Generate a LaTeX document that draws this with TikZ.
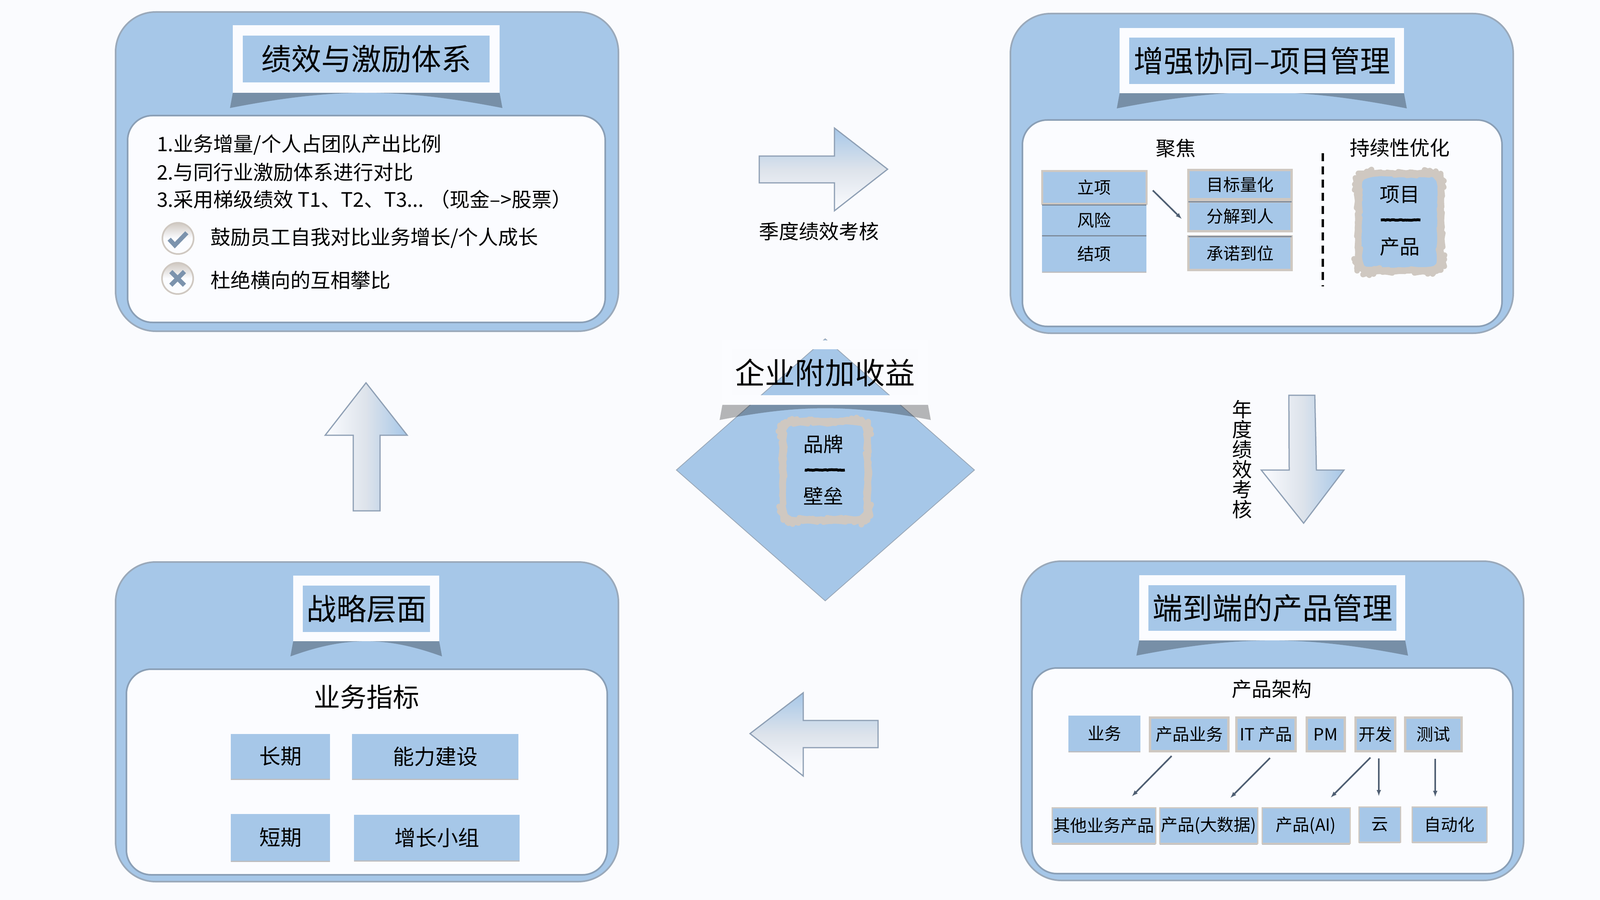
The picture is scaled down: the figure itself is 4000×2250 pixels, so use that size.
\documentclass[tikz,border=0pt]{standalone}
\usepackage{fontspec}
\setmainfont{Noto Sans CJK SC}
\usetikzlibrary{shadows,decorations.pathmorphing}

\definecolor{pagebg}{HTML}{FAFBFE}
\definecolor{cardwhite}{HTML}{FBFCFF}
\definecolor{panelblue}{HTML}{A6C7E8}
\definecolor{panelrim}{HTML}{9AA9BA}
\definecolor{innerrim}{HTML}{8A9FB6}
\definecolor{taupe}{HTML}{CFC8C1}
\definecolor{slate}{HTML}{4F5F73}
\definecolor{iconblue}{HTML}{7C93AD}
\definecolor{arrowmid}{HTML}{DDE3EB}
\definecolor{arrowedge}{HTML}{8FA0B5}
\definecolor{seamgray}{HTML}{7D8A9A}

\tikzset{
	panelbox/.style={draw=panelrim,line width=4,fill=panelblue,rounded corners=100,inner sep=0,outer sep=0},
	innerbox/.style={draw=innerrim,line width=4,fill=cardwhite,rounded corners=62,inner sep=0,outer sep=0},
	titleframe/.style={fill=cardwhite,inner sep=0,outer sep=0},
	titlebox/.style={fill=panelblue,inner sep=0,outer sep=0,font=\fontsize{75}{80}\selectfont},
	plainbox/.style={fill=panelblue,inner sep=0,outer sep=0,general shadow={fill=gray,opacity=.5,shadow xshift=0pt,shadow yshift=-3pt,scale=1.03}},
	framedbox/.style={plainbox,draw=taupe,line width=6},
	brushbox/.style={draw=taupe,line width=14,line join=round,fill=panelblue,rounded corners=28,inner sep=0,outer sep=0,decorate,decoration={random steps,segment length=10,amplitude=1.5}},
	bodytext/.style={inner sep=0,outer sep=0,font=\fontsize{50}{50}\selectfont},
	smalltext/.style={font=\fontsize{42}{50}\selectfont},
	mediumtext/.style={font=\fontsize{53}{60}\selectfont},
	brushdash/.style={draw=black,line width=7,decorate,decoration={random steps,segment length=4,amplitude=.8}},
	seamline/.style={draw=seamgray,line width=3},
	link/.style={-latex,draw=slate,line width=4},
	shadetail/.style={fill=black,opacity=.28},
	bigarrow/.style={draw=arrowedge,line width=3},
	iconring/.style={circle,draw=taupe,line width=4,top color=taupe,bottom color=cardwhite,middle color=cardwhite,minimum size=78,inner sep=0,outer sep=0},
	iconstroke/.style={draw=iconblue,line width=11}
}

\newcommand{\tailunder}[2]{\fill[shadetail] ([shift={(-7,38)}]#1.south west) to[bend left=#2] ([shift={(7,38)}]#1.south east) -- (#1.south east) -- (#1.south west) -- cycle;}

\begin{document}
\begin{tikzpicture}[x=1pt,y=-1pt]
	
	\useasboundingbox (0,0) rectangle (4000,2250);
	\fill[pagebg] (0,0) rectangle (4000,2250);
	
	\node[panelbox,minimum width=1257,minimum height=798] (perfpanel) at (917.5,429) {};
	\node[titleframe,minimum width=667,minimum height=169] (perfframe) at (915.5,147.5) {};
	\tailunder{perfframe}{11}
	\node[titleframe,minimum width=667,minimum height=169] at (915.5,147.5) {};
	\node[titlebox,minimum width=617,minimum height=117] (perftitle) at (915.5,147.5) {绩效与激励体系};
	\node[innerbox,minimum width=1194,minimum height=517] (perfinner) at (916,547.5) {};
	\node[bodytext,anchor=west] (perfa) at (392,362) {1.业务增量/个人占团队产出比例};
	\node[bodytext,anchor=west] (perfb) at (392,431) {2.与同行业激励体系进行对比};
	\node[bodytext,anchor=west] (perfc) at (392,498) {3.采用梯级绩效 T1、T2、T3... （现金–>股票）};
	\node[iconring] (yesicon) at (445,596) {};
	\node[iconring] (noicon) at (444,696) {};
	\draw[iconstroke] ([shift={(-22,2)}]yesicon.center) -- ([shift={(-8,17)}]yesicon.center) -- ([shift={(22,-14)}]yesicon.center);
	\draw[iconstroke] ([shift={(-17,-17)}]noicon.center) -- ([shift={(17,17)}]noicon.center);
	\draw[iconstroke] ([shift={(17,-17)}]noicon.center) -- ([shift={(-17,17)}]noicon.center);
	\node[bodytext,anchor=west] (yestext) at (526,595) {鼓励员工自我对比业务增长/个人成长};
	\node[bodytext,anchor=west] (notext) at (526,700) {杜绝横向的互相攀比};
	
	\node[panelbox,minimum width=1257,minimum height=799] (syncpanel) at (3154.5,433.5) {};
	\node[titleframe,minimum width=711,minimum height=163] (syncframe) at (3154.5,151.5) {};
	\tailunder{syncframe}{11}
	\node[titleframe,minimum width=711,minimum height=163] at (3154.5,151.5) {};
	\node[titlebox,minimum width=664,minimum height=116] (synctitle) at (3155,152) {增强协同–项目管理};
	\node[innerbox,minimum width=1199,minimum height=516] (syncinner) at (3155.5,558) {};
	\node[bodytext] (focus) at (2939,371) {聚焦};
	\node[bodytext] (improve) at (3499,370) {持续性优化};
	\node[plainbox,smalltext,draw=taupe,line width=5,minimum width=261,minimum height=82] (initiate) at (2735.5,468) {立项};
	\node[plainbox,smalltext,minimum width=261,minimum height=75] (risk) at (2735.5,550) {风险};
	\node[plainbox,smalltext,minimum width=261,minimum height=89] (closing) at (2735.5,634) {结项};
	\draw[seamline] (risk.north west) -- (risk.north east);
	\draw[seamline] (closing.north west) -- (closing.north east);
	\node[framedbox,smalltext,minimum width=258,minimum height=73] (quantify) at (3100,461.5) {目标量化};
	\node[framedbox,smalltext,minimum width=258,minimum height=74] (assign) at (3100,541) {分解到人};
	\node[framedbox,smalltext,minimum width=258,minimum height=84] (promise) at (3100,633) {承诺到位};
	\draw[seamline] (assign.north west) -- (assign.north east);
	\draw[seamline] (promise.north west) -- (promise.north east);
	\draw[link] ([shift={(16,8)}]initiate.east) -- ([shift={(-17,6)}]assign.west);
	\draw[line width=6,dashed,dash pattern=on 20 off 13] (3307,383) -- (3307,716);
	\node[brushbox,minimum width=206,minimum height=243] (projbox) at (3499,555.5) {};
	\node[bodytext] (project) at (3499,487) {项目};
	\draw[brushdash] (3452,550) -- (3551,550);
	\node[bodytext] (product) at (3499,617) {产品};
	
	\node[panelbox,minimum width=1256,minimum height=798] (prodpanel) at (3181,1802) {};
	\node[titleframe,minimum width=665,minimum height=163] (prodframe) at (3180.5,1519.5) {};
	\tailunder{prodframe}{11}
	\node[titleframe,minimum width=665,minimum height=163] at (3180.5,1519.5) {};
	\node[titlebox,minimum width=620,minimum height=114] (prodtitle) at (3181,1520) {端到端的产品管理};
	\node[innerbox,minimum width=1202,minimum height=514] (prodinner) at (3181,1927) {};
	\node[bodytext] (prodarch) at (3179,1723) {产品架构};
	\node[plainbox,smalltext,minimum width=180,minimum height=89] (biz) at (2761,1833) {业务};
	\node[framedbox,smalltext,minimum width=196,minimum height=84] (prodbiz) at (2973,1836) {产品业务};
	\node[framedbox,smalltext,minimum width=148,minimum height=84] (ittop) at (3165,1836) {IT 产品};
	\node[framedbox,smalltext,minimum width=95,minimum height=84] (pm) at (3314,1836) {PM};
	\node[framedbox,smalltext,minimum width=99,minimum height=84] (dev) at (3438,1836) {开发};
	\node[framedbox,smalltext,minimum width=141,minimum height=84] (test) at (3583.5,1836) {测试};
	\node[plainbox,smalltext,draw=taupe,line width=3,minimum width=259,minimum height=89] (other) at (2759.5,2064) {其他业务产品};
	\node[plainbox,smalltext,draw=taupe,line width=3,minimum width=245,minimum height=89] (prodbig) at (3021.5,2064) {产品(大数据)};
	\node[plainbox,smalltext,draw=taupe,line width=3,minimum width=220,minimum height=89] (prodai) at (3265,2064) {产品(AI)};
	\node[plainbox,smalltext,draw=taupe,line width=3,minimum width=104,minimum height=88] (cloud) at (3449,2061) {云};
	\node[plainbox,smalltext,draw=taupe,line width=3,minimum width=187,minimum height=88] (auto) at (3623.5,2061) {自动化};
	\draw[link] ([shift={(-44,12)}]prodbiz.south) -- ([shift={(70.5,-29)}]other.north);
	\draw[link] ([shift={(10,17)}]ittop.south) -- ([shift={(54.5,-25)}]prodbig.north);
	\draw[link] ([shift={(-12,16)}]dev.south) -- ([shift={(62,-26)}]prodai.north);
	\draw[link] ([shift={(9,18)}]dev.south) -- ([shift={(-2,-27)}]cloud.north);
	\draw[link] ([shift={(4.5,19)}]test.south) -- ([shift={(-35.5,-25)}]auto.north);
	
	\node[panelbox,minimum width=1257,minimum height=799] (stratpanel) at (917.5,1804.5) {};
	\node[titleframe,minimum width=365,minimum height=164] (stratframe) at (915.5,1521) {};
	\tailunder{stratframe}{20}
	\node[titleframe,minimum width=365,minimum height=164] at (915.5,1521) {};
	\node[titlebox,minimum width=318,minimum height=116] (strattitle) at (916,1522) {战略层面};
	\node[innerbox,minimum width=1202,minimum height=514] (stratinner) at (917,1930) {};
	\node[bodytext,font=\fontsize{66}{70}\selectfont] (stratsub) at (916,1742) {业务指标};
	\node[plainbox,mediumtext,minimum width=248,minimum height=112] (longterm) at (701,1891) {长期};
	\node[plainbox,mediumtext,minimum width=416,minimum height=112] (capacity) at (1088,1891) {能力建设};
	\node[plainbox,mediumtext,minimum width=248,minimum height=117] (shortterm) at (701,2093.5) {短期};
	\node[plainbox,mediumtext,minimum width=414,minimum height=114] (growth) at (1092,2094) {增长小组};
	
	\draw[panelrim,line width=2,fill=panelblue] (2063,847) -- (2436,1175) -- (2063,1502) -- (1691,1175) -- cycle;
	\node[inner sep=0,outer sep=0,minimum width=514,minimum height=161] (corpframe) at (2063,931.5) {};
	\node[inner sep=0,outer sep=0,minimum width=464,minimum height=115] (corpgap) at (2063,930.5) {};
	\tailunder{corpframe}{11}
	\fill[cardwhite,even odd rule] (corpframe.north west) rectangle (corpframe.south east) (corpgap.north west) rectangle (corpgap.south east);
	\node[inner sep=0,font=\fontsize{75}{80}\selectfont] (corptitle) at (2062,932) {企业附加收益};
	\node[brushbox,minimum width=212,minimum height=246] (brandbox) at (2063,1177) {};
	\node[bodytext] (brand) at (2058,1110) {品牌};
	\draw[brushdash] (2012,1175) -- (2112,1175);
	\node[bodytext] (barrier) at (2058,1240) {壁垒};
	
	\shadedraw[bigarrow,top color=panelblue,bottom color=cardwhite,middle color=arrowmid] (1898,390) -- (2086,390) -- (2086,320) -- (2219,423) -- (2086,527) -- (2086,457) -- (1898,457) -- cycle;
	\node[bodytext] (quarterly) at (2047,578) {季度绩效考核};
	\shadedraw[bigarrow,left color=cardwhite,right color=panelblue,middle color=arrowmid] (3222,988) -- (3287,988) -- (3291,1175) -- (3360,1175) -- (3259,1308) -- (3153,1175) -- (3223,1175) -- cycle;
	\node[bodytext,align=center] (yearly) at (3105,1148) {年\\度\\绩\\效\\考\\核};
	\shadedraw[bigarrow,top color=panelblue,bottom color=cardwhite,middle color=arrowmid] (2195,1801) -- (2008,1801) -- (2008,1732) -- (1875,1834) -- (2008,1940) -- (2008,1869) -- (2195,1869) -- cycle;
	\shadedraw[bigarrow,left color=cardwhite,right color=panelblue,middle color=arrowmid] (883,1277) -- (883,1088) -- (813,1088) -- (915,957) -- (1018,1088) -- (950,1088) -- (950,1277) -- cycle;
	
\end{tikzpicture}
\end{document}
